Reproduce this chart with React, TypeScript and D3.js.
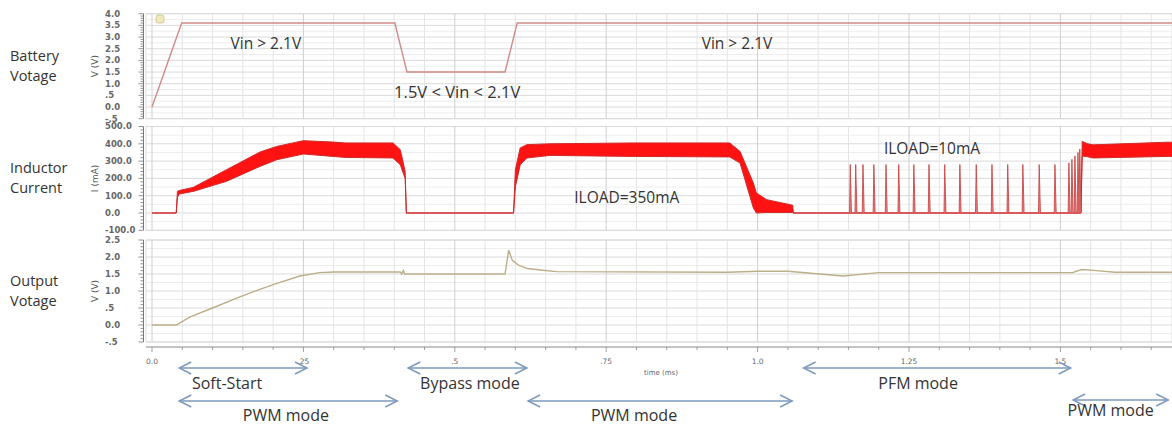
import * as d3 from "d3";

// battery voltage (V) against time (ms)
const vinTime = [0, 0.049, 0.401, 0.421, 0.583, 0.603, 1.7];
const vinVolt = [0, 3.6, 3.6, 1.5, 1.5, 3.6, 3.6];

// inductor current ripple envelope (mA)
const ilTime = [0, 0.04, 0.042, 0.045, 0.068, 0.123, 0.178, 0.206, 0.25, 0.299, 0.32, 0.398, 0.41, 0.418, 0.42,
  0.597, 0.6, 0.608, 0.619, 0.657, 0.795, 0.954, 0.971, 0.993, 0.998, 1.015, 1.054, 1.058, 1.059,
  1.534, 1.536, 1.545, 1.554, 1.675, 1.7];
const ilLow = [0, 0, 90, 110, 125, 183, 269, 308, 341, 327, 321, 318, 279, 200, 0,
  0, 150, 279, 318, 333, 327, 324, 289, 29, 0, 3, 3, 3, 0,
  0, 330, 325, 318, 327, 327];
const ilHigh = [0, 0, 125, 130, 148, 250, 352, 385, 418, 410, 405, 405, 366, 240, 0,
  0, 250, 376, 395, 400, 405, 405, 356, 173, 116, 77, 48, 45, 0,
  0, 414, 400, 394, 409, 409];

// PFM pulses at light load
const pfmTime = [1.153, 1.162, 1.174, 1.192, 1.212, 1.233, 1.258, 1.283, 1.309, 1.334, 1.361, 1.387, 1.413,
  1.438, 1.465, 1.491, 1.514, 1.519, 1.524, 1.529, 1.532];
const pfmPeak = [280, 280, 280, 280, 280, 280, 280, 280, 280, 280, 280, 280, 280,
  280, 280, 280, 290, 310, 330, 350, 370];

// output voltage (V)
const voutTime = [0, 0.04, 0.063, 0.1, 0.145, 0.2, 0.244, 0.277, 0.3, 0.41, 0.412, 0.415, 0.417, 0.42,
  0.583, 0.589, 0.595, 0.605, 0.62, 0.645, 0.668, 0.95, 1.0, 1.05, 1.141, 1.2, 1.52, 1.535, 1.56, 1.59, 1.7];
const voutVolt = [0, 0, 0.24, 0.5, 0.83, 1.19, 1.44, 1.54, 1.56, 1.56, 1.5, 1.6, 1.5, 1.5,
  1.5, 2.2, 1.9, 1.76, 1.66, 1.61, 1.57, 1.55, 1.58, 1.58, 1.44, 1.54, 1.54, 1.63, 1.6, 1.55, 1.55];

const xTicks = [0, 0.25, 0.5, 0.75, 1.0, 1.25, 1.5];
const xTickLabels = ["0.0", ".25", ".5", ".75", "1.0", "1.25", "1.5"];

const vinTicks = [4, 3.5, 3, 2.5, 2, 1.5, 1, 0.5, 0, -0.5];
const vinTickLabels = ["4.0", "3.5", "3.0", "2.5", "2.0", "1.5", "1.0", ".5", "0.0", "-.5"];
const ilTicks = [500, 400, 300, 200, 100, 0, -100];
const ilTickLabels = ["500.0", "400.0", "300.0", "200.0", "100.0", "0.0", "-100.0"];
const voutTicks = [2.5, 2, 1.5, 1, 0.5, 0, -0.5];
const voutTickLabels = ["2.5", "2.0", "1.5", "1.0", ".5", "0.0", "-.5"];

const modeNames = ["Soft-Start", "Bypass mode", "PFM mode", "PWM mode", "PWM mode", "PWM mode"];
const modeStart = [0.045, 0.423, 1.076, 0.045, 0.621, 1.521];
const modeEnd = [0.256, 0.619, 1.517, 0.405, 1.057, 1.678];
const modeTextAt = [0.124, 0.525, 1.265, 0.221, 0.796, 1.583];
const modeRow = [0, 0, 0, 1, 1, 2];

const W = 1172, H = 425;
const PL = 146, PR = 1172;
const FONT = "'Open Sans', sans-serif";
const TICKFONT = "'DejaVu Sans', sans-serif";

const x = d3.scaleLinear().domain([0, 1]).range([152, 757.6]);

const panels = [
  {
    id: "vin", y: d3.scaleLinear().domain([-0.5, 4]).range([118.7, 13.7]),
    ticks: vinTicks, labels: vinTickLabels, major: 0.5, minor: 0.25, ruler: 0.1,
    unit: "V (V)", name: ["Battery", "Votage"],
  },
  {
    id: "il", y: d3.scaleLinear().domain([-100, 500]).range([230.3, 126.5]),
    ticks: ilTicks, labels: ilTickLabels, major: 100, minor: 50, ruler: 20,
    unit: "I (mA)", name: ["Inductor", "Current"],
  },
  {
    id: "vout", y: d3.scaleLinear().domain([-0.5, 2.5]).range([342, 240]),
    ticks: voutTicks, labels: voutTickLabels, major: 0.5, minor: 0.25, ruler: 0.1,
    unit: "V (V)", name: ["Output", "Votage"],
  },
];

const Arrow = ({ x1, x2, y }: { x1: number; x2: number; y: number }) => (
  <g stroke="#7d99bd" strokeWidth={1.5} fill="none">
    <line x1={x1} x2={x2} y1={y} y2={y} />
    <path d={`M${x1 + 12},${y - 6} L${x1},${y} L${x1 + 12},${y + 6}`} />
    <path d={`M${x2 - 12},${y - 6} L${x2},${y} L${x2 - 12},${y + 6}`} />
  </g>
);

const App = () => {
  const vGrid = d3.range(0, 1.7, 0.05);
  const [pVin, pIl, pOut] = panels;

  const vinLine = d3.line<number>().x((_, i) => x(vinTime[i])).y((v) => pVin.y(v));
  const outLine = d3.line<number>().x((_, i) => x(voutTime[i])).y((v) => pOut.y(v));
  const ilArea = d3.area<number>()
    .x((_, i) => x(ilTime[i]))
    .y0((v) => pIl.y(v))
    .y1((_, i) => pIl.y(ilHigh[i]));

  const rowY = [368, 401, 400];
  const rowText = [383, 415, 410];

  return (
    <svg width={W} height={H} style={{ position: "absolute", left: 0, top: 0, background: "#fff" }}>
      <defs>
        {panels.map((p) => (
          <clipPath id={`clip-${p.id}`} key={p.id}>
            <rect x={PL} y={p.y.range()[1]} width={PR - PL} height={p.y.range()[0] - p.y.range()[1]} />
          </clipPath>
        ))}
      </defs>

      {panels.map((p) => {
        const [lo, hi] = p.y.domain();
        const top = p.y.range()[1], bot = p.y.range()[0];
        const minors = d3.range(lo, hi + 1e-9, p.minor);
        const rulers = d3.range(lo, hi + 1e-9, p.ruler);
        const yc = (top + bot) / 2;
        return (
          <g key={p.id}>
            <rect x={PL} y={top} width={PR - PL} height={bot - top} fill="#fff" stroke="#d8d8d8" strokeWidth={0.8} />
            {minors.map((v) => {
              const isMajor = Math.abs(v / p.major - Math.round(v / p.major)) < 1e-6;
              return (
                <line key={`h${v}`} x1={PL} x2={PR} y1={p.y(v)} y2={p.y(v)}
                  stroke={isMajor ? "#dadada" : "#ededed"} strokeWidth={1} />
              );
            })}
            {vGrid.map((t) => {
              const isMajor = Math.abs(t / 0.25 - Math.round(t / 0.25)) < 1e-6;
              return (
                <line key={`v${t}`} x1={x(t)} x2={x(t)} y1={top} y2={bot}
                  stroke={isMajor ? "#cfcfcf" : "#e4e4e4"} strokeWidth={1} />
              );
            })}
            {/* y ruler */}
            <line x1={143.5} x2={143.5} y1={top} y2={bot} stroke="#777" strokeWidth={1} />
            {rulers.map((v) => {
              const isMajor = Math.abs(v / p.major - Math.round(v / p.major)) < 1e-6;
              return (
                <line key={`r${v}`} x1={isMajor ? 138.5 : 140.5} x2={143.5} y1={p.y(v)} y2={p.y(v)}
                  stroke="#777" strokeWidth={0.8} />
              );
            })}
            {p.ticks.map((v, i) => (
              <text key={`t${v}`} x={105} y={p.y(v)} dy="0.35em" fontFamily={TICKFONT} fontSize={8.5}
                fill="#666" fontWeight="bold">{p.labels[i]}</text>
            ))}
            <text transform={`translate(98,${yc}) rotate(-90)`} textAnchor="middle" fontFamily={TICKFONT}
              fontSize={9} fill="#555">{p.unit}</text>
            <text x={10} y={yc - 10} dy="0.35em" fontFamily={FONT} fontSize={14.5} fill="#333">{p.name[0]}</text>
            <text x={10} y={yc + 10} dy="0.35em" fontFamily={FONT} fontSize={14.5} fill="#333">{p.name[1]}</text>
          </g>
        );
      })}

      {/* battery voltage */}
      <g clipPath="url(#clip-vin)">
        <rect x={156} y={15} width={8} height={8} rx={2} fill="#efe9bd" stroke="#c9bf86" strokeWidth={0.8} />
        <path d={vinLine(vinVolt) ?? ""} fill="none" stroke="#d08a88" strokeWidth={1.4} />
      </g>
      <text x={x(0.188)} y={pVin.y(2.74)} dy="0.35em" textAnchor="middle" fontFamily={FONT} fontSize={15.5} fill="#333">Vin &gt; 2.1V</text>
      <text x={x(0.966)} y={pVin.y(2.74)} dy="0.35em" textAnchor="middle" fontFamily={FONT} fontSize={15.5} fill="#333">Vin &gt; 2.1V</text>
      <text x={x(0.504)} y={pVin.y(0.64)} dy="0.35em" textAnchor="middle" fontFamily={FONT} fontSize={16.5} fill="#333">1.5V &lt; Vin &lt; 2.1V</text>

      {/* inductor current */}
      <g clipPath="url(#clip-il)">
        <path d={ilArea(ilLow) ?? ""} fill="#ff1212" stroke="#d02a2a" strokeWidth={1} />
        {pfmTime.map((t, i) => (
          <path key={t}
            d={`M${x(t - 0.0012)},${pIl.y(0)} L${x(t)},${pIl.y(pfmPeak[i])} L${x(t + 0.002)},${pIl.y(0)}`}
            fill="#f08080" stroke="#c84848" strokeWidth={0.9} />
        ))}
      </g>
      <text x={x(0.784)} y={pIl.y(92)} dy="0.35em" textAnchor="middle" fontFamily={FONT} fontSize={15.5} fill="#333">ILOAD=350mA</text>
      <text x={x(1.288)} y={pIl.y(370)} dy="0.35em" textAnchor="middle" fontFamily={FONT} fontSize={15.5} fill="#333">ILOAD=10mA</text>

      {/* output voltage */}
      <g clipPath="url(#clip-vout)">
        <path d={outLine(voutVolt) ?? ""} fill="none" stroke="#bcae88" strokeWidth={1.4} />
      </g>

      {/* x axis */}
      <line x1={PL} x2={PR} y1={347} y2={347} stroke="#888" strokeWidth={1} />
      {vGrid.map((t) => {
        const isMajor = Math.abs(t / 0.25 - Math.round(t / 0.25)) < 1e-6;
        return <line key={`xt${t}`} x1={x(t)} x2={x(t)} y1={347} y2={isMajor ? 352 : 350} stroke="#888" strokeWidth={0.8} />;
      })}
      {xTicks.map((t, i) => (
        <text key={`xl${t}`} x={x(t)} y={361} dy="0.35em" textAnchor="middle" fontFamily={TICKFONT}
          fontSize={7.5} fill="#666">{xTickLabels[i]}</text>
      ))}
      <text x={661} y={373} dy="0.35em" textAnchor="middle" fontFamily={TICKFONT} fontSize={7} fill="#666">time (ms)</text>

      {/* operating modes */}
      {modeNames.map((m, i) => (
        <g key={i}>
          <Arrow x1={x(modeStart[i])} x2={x(modeEnd[i])} y={rowY[modeRow[i]]} />
          <text x={x(modeTextAt[i])} y={rowText[modeRow[i]]} dy="0.35em" textAnchor="middle"
            fontFamily={FONT} fontSize={16} fill="#333">{m}</text>
        </g>
      ))}
    </svg>
  );
};

export default App;
